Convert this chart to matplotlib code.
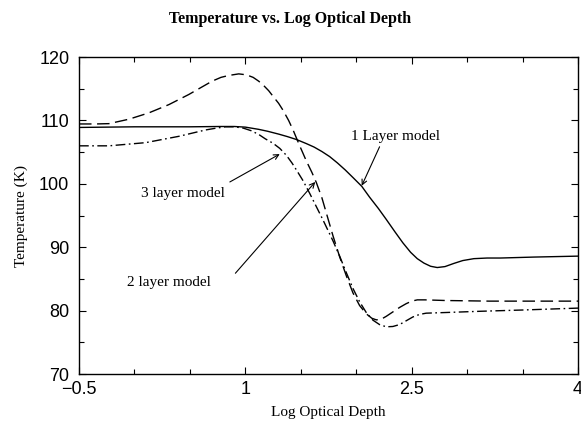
import matplotlib
matplotlib.use("Agg")
import matplotlib.pyplot as plt
from matplotlib.ticker import FixedLocator, FixedFormatter, MultipleLocator

# 1 layer model (solid)
x1 = [-0.5, 0.0, 0.5, 0.77, 0.9, 1.0, 1.12, 1.2, 1.3, 1.38, 1.46, 1.55, 1.62, 1.69, 1.76,
      1.83, 1.9, 1.97, 2.05, 2.12, 2.2, 2.27, 2.35, 2.42, 2.49, 2.55, 2.61, 2.67, 2.73,
      2.8, 2.88, 2.96, 3.06, 3.18, 3.3, 3.6, 4.0]
t1 = [108.9, 109.0, 109.0, 109.05, 109.05, 108.95, 108.6, 108.3, 107.85, 107.45, 107.0,
      106.35, 105.8, 105.1, 104.3, 103.3, 102.2, 101.0, 99.6, 97.9, 96.1, 94.4, 92.4,
      90.7, 89.2, 88.2, 87.5, 87.0, 86.8, 86.95, 87.45, 87.9, 88.2, 88.3, 88.3, 88.45, 88.6]

# 2 layer model (dashed)
x2 = [-0.5, -0.35, -0.23, -0.05, 0.13, 0.31, 0.49, 0.6, 0.7, 0.78, 0.85, 0.94, 1.01,
      1.07, 1.12, 1.16, 1.21, 1.25, 1.3, 1.34, 1.39, 1.43, 1.49, 1.55, 1.6, 1.64, 1.69,
      1.74, 1.79, 1.85, 1.91, 1.97, 2.03, 2.09, 2.14, 2.18, 2.22, 2.27, 2.33, 2.39, 2.45,
      2.5, 2.55, 2.62, 2.8, 3.2, 3.6, 4.0]
t2 = [109.45, 109.45, 109.5, 110.2, 111.2, 112.5, 114.1, 115.2, 116.2, 116.8, 117.1,
      117.35, 117.2, 116.8, 116.2, 115.6, 114.7, 113.8, 112.7, 111.6, 110.0, 108.5, 106.0,
      103.6, 101.8, 100.2, 97.8, 94.8, 91.8, 88.5, 85.5, 82.8, 80.8, 79.5, 78.8, 78.55,
      78.6, 79.1, 79.8, 80.5, 81.1, 81.5, 81.7, 81.7, 81.6, 81.5, 81.5, 81.5]

# 3 layer model (dash-dot)
x3 = [-0.5, -0.23, 0.1, 0.25, 0.4, 0.52, 0.64, 0.74, 0.82, 0.9, 0.98, 1.05, 1.12, 1.18,
      1.25, 1.31, 1.37, 1.42, 1.46, 1.52, 1.58, 1.64, 1.7, 1.79, 1.85, 1.91, 1.97, 2.03,
      2.09, 2.15, 2.21, 2.27, 2.33, 2.39, 2.45, 2.51, 2.57, 2.63, 2.8, 3.12, 3.5, 4.0]
t3 = [106.0, 106.0, 106.5, 107.0, 107.5, 108.0, 108.5, 108.8, 109.0, 109.0, 108.8, 108.4,
      107.8, 107.1, 106.4, 105.6, 104.5, 103.3, 102.2, 100.5, 98.5, 96.4, 94.3, 91.0, 88.6,
      86.0, 83.5, 81.4, 79.7, 78.5, 77.8, 77.45, 77.5, 77.8, 78.4, 79.0, 79.4, 79.6, 79.7,
      79.9, 80.1, 80.4]

xticks = [-0.5, 1, 2.5, 4]
xtick_labels = ["\u22120.5", "1", "2.5", "4"]
yticks = [70, 80, 90, 100, 110, 120]

serif = ["Liberation Serif", "DejaVu Serif"]
sans = ["Liberation Sans", "DejaVu Sans"]

fig = plt.figure(figsize=(5.81, 4.26), dpi=100)
ax = fig.add_axes([0.136, 0.122, 0.859, 0.744])

ax.plot(x1, t1, color="black", lw=1.0, linestyle="-")
ax.plot(x2, t2, color="black", lw=1.0, dashes=(9, 4))
ax.plot(x3, t3, color="black", lw=1.0, dashes=(7, 2.5, 1.2, 2.5))

ax.set_xlim(-0.5, 4)
ax.set_ylim(70, 120)
ax.xaxis.set_major_locator(FixedLocator(xticks))
ax.xaxis.set_major_formatter(FixedFormatter(xtick_labels))
ax.xaxis.set_minor_locator(MultipleLocator(0.5))
ax.set_yticks(yticks)
ax.yaxis.set_minor_locator(MultipleLocator(5))

ax.tick_params(which="both", direction="in", top=True, right=True, width=0.8)
ax.tick_params(which="major", length=5, labelsize=13)
ax.tick_params(axis="x", which="major", pad=5)
ax.tick_params(axis="y", which="major", pad=7)
ax.tick_params(which="minor", length=3.5)
for lab in ax.get_xticklabels() + ax.get_yticklabels():
    lab.set_family(sans)
for s in ax.spines.values():
    s.set_linewidth(1.0)

ax.set_xlabel("Log Optical Depth", family=serif, fontsize=11, labelpad=6)
ax.set_ylabel("Temperature (K)", family=serif, fontsize=11, labelpad=8)
fig.suptitle("Temperature vs. Log Optical Depth", family=serif, fontweight="bold",
             fontsize=11.5, y=0.975)

arrow = dict(arrowstyle="->", color="black", lw=0.8, shrinkA=0, shrinkB=0,
             mutation_scale=9)
ax.text(2.35, 107.4, "1 Layer model", fontsize=11, family=serif, ha="center", va="center")
ax.annotate("", xy=(2.049, 99.7), xytext=(2.21, 105.85), arrowprops=arrow)
ax.annotate("", xy=(1.31, 104.7), xytext=(0.86, 100.3), arrowprops=arrow)
ax.text(0.44, 98.5, "3 layer model", fontsize=11, family=serif, ha="center", va="center")
ax.annotate("", xy=(1.63, 100.3), xytext=(0.91, 85.9), arrowprops=arrow)
ax.text(0.31, 84.4, "2 layer model", fontsize=11, family=serif, ha="center", va="center")

fig.savefig("out.png", dpi=100)
